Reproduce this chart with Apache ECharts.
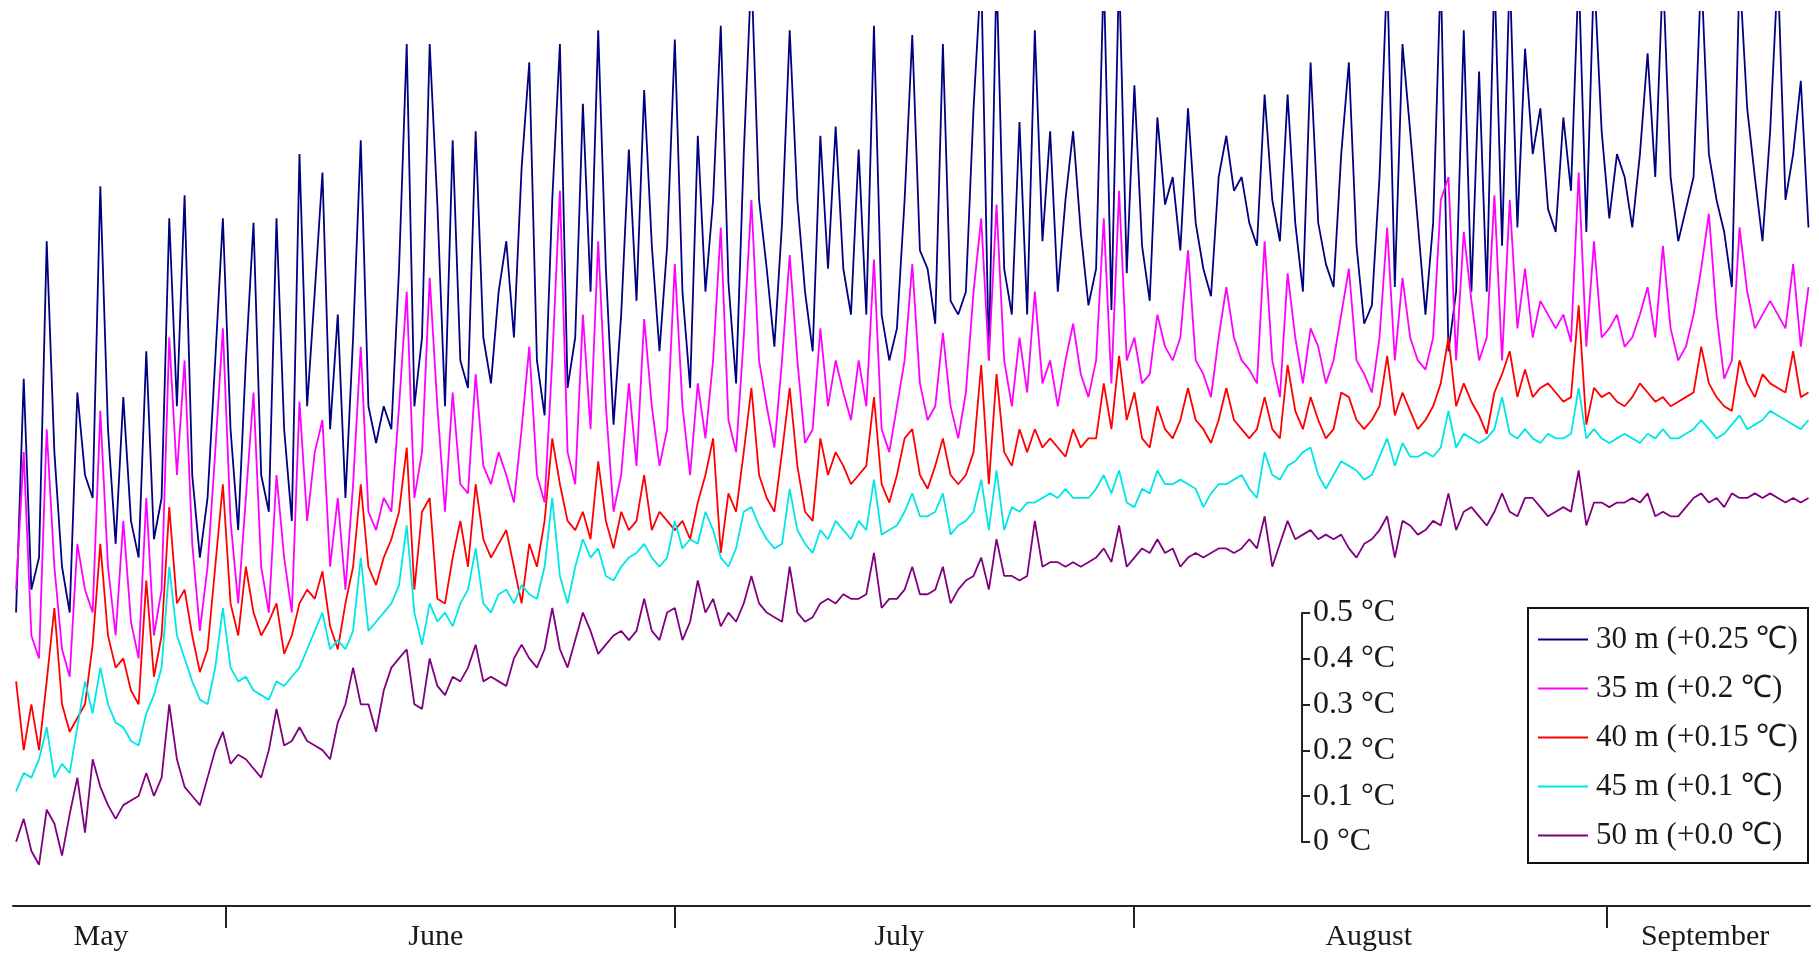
<!DOCTYPE html>
<html>
<head>
<meta charset="utf-8">
<script src="https://cdn.jsdelivr.net/npm/echarts@6/dist/echarts.min.js"></script>
<style>
  html, body { margin: 0; padding: 0; background: #fff; }
  #chart { width: 1819px; height: 955px; }
</style>
</head>
<body>
<div id="chart"></div>
<script>
// Water temperature at five depths, one value every half day (sample index on x).
// Each series already carries the offset listed in its legend entry.

const seriesNames = ['30 m (+0.25 \u2103)', '35 m (+0.2 \u2103)', '40 m (+0.15 \u2103)', '45 m (+0.1 \u2103)', '50 m (+0.0 \u2103)'];
const seriesColors = ['#000080', '#ff00ff', '#ff0000', '#00e6e6', '#800080'];

const t30 = [
  0.50, 1.01, 0.55, 0.62, 1.31, 0.85, 0.60, 0.50, 0.98, 0.80,
  0.75, 1.43, 0.90, 0.65, 0.97, 0.70, 0.62, 1.07, 0.66, 0.75,
  1.36, 0.95, 1.41, 0.80, 0.62, 0.75, 1.05, 1.36, 0.90, 0.68,
  1.05, 1.35, 0.80, 0.72, 1.36, 0.90, 0.70, 1.50, 0.95, 1.20,
  1.46, 0.90, 1.15, 0.75, 1.10, 1.53,
  0.95, 0.87, 0.95, 0.90, 1.25, 1.74, 0.95, 1.10, 1.74, 1.39,
  0.95, 1.53, 1.05, 0.99, 1.55, 1.10, 1.00, 1.20, 1.31, 1.10,
  1.47, 1.70, 1.05, 0.93, 1.40, 1.74, 0.99, 1.10, 1.61, 1.20,
  1.77, 1.25, 0.91, 1.15, 1.51, 1.18, 1.64, 1.30, 1.07, 1.30,
  1.75, 1.20, 0.99, 1.54, 1.20, 1.40, 1.78, 1.22,
  1.00, 1.50, 1.90, 1.40, 1.25, 1.08, 1.35, 1.77, 1.40, 1.20,
  1.07, 1.54, 1.25, 1.56, 1.25, 1.15, 1.51, 1.15, 1.78, 1.15,
  1.05, 1.12, 1.40, 1.76, 1.29, 1.25, 1.13, 1.74, 1.18, 1.15,
  1.20, 1.60, 1.90, 1.05, 1.90, 1.25, 1.15, 1.57, 1.15, 1.77,
  1.31, 1.55, 1.20, 1.40, 1.55, 1.33, 1.17,
  1.25, 1.90, 1.16, 1.90, 1.24, 1.65, 1.30, 1.18, 1.58, 1.39,
  1.45, 1.29, 1.60, 1.35, 1.25, 1.19, 1.45, 1.54, 1.42, 1.45,
  1.35, 1.30, 1.63, 1.40, 1.31, 1.63, 1.35, 1.20, 1.70, 1.35,
  1.26, 1.21, 1.50, 1.70, 1.30, 1.13, 1.17, 1.45, 1.90, 1.21,
  1.74, 1.55, 1.35, 1.15, 1.35, 1.90, 1.07, 1.20,
  1.77, 1.20, 1.68, 1.20, 1.90, 1.30, 1.90, 1.34, 1.73, 1.50,
  1.60, 1.38, 1.33, 1.58, 1.42, 1.90, 1.33, 1.90, 1.55, 1.36,
  1.50, 1.45, 1.34, 1.50, 1.72, 1.45, 1.90, 1.45, 1.31, 1.38,
  1.45, 1.90, 1.50, 1.40, 1.33, 1.21, 1.90, 1.60, 1.45, 1.31,
  1.55, 1.90, 1.40, 1.50, 1.66, 1.34
];

const t35 = [
  0.55, 0.85, 0.45, 0.40, 0.90, 0.60, 0.42, 0.36, 0.65, 0.55,
  0.50, 0.94, 0.60, 0.45, 0.70, 0.48, 0.40, 0.75, 0.45, 0.55,
  1.10, 0.80, 1.05, 0.65, 0.46, 0.60, 0.85, 1.12, 0.70, 0.52,
  0.75, 0.98, 0.60, 0.50, 0.80, 0.62, 0.50, 0.96, 0.70, 0.85,
  0.92, 0.60, 0.75, 0.55, 0.78, 1.08,
  0.72, 0.68, 0.75, 0.72, 0.95, 1.20, 0.75, 0.85, 1.23, 0.95,
  0.72, 0.98, 0.78, 0.76, 1.02, 0.82, 0.78, 0.85, 0.80, 0.74,
  0.90, 1.08, 0.80, 0.74, 1.05, 1.42, 0.85, 0.78, 1.15, 0.90,
  1.31, 0.95, 0.72, 0.80, 1.00, 0.82, 1.14, 0.95, 0.82, 0.90,
  1.26, 0.95, 0.80, 1.00, 0.88, 1.05, 1.34, 0.92,
  0.85, 1.10, 1.40, 1.05, 0.95, 0.86, 1.05, 1.28, 1.05, 0.87,
  0.90, 1.12, 0.95, 1.05, 0.98, 0.92, 1.05, 0.95, 1.27, 0.90,
  0.85, 0.95, 1.05, 1.26, 1.00, 0.92, 0.95, 1.11, 0.95, 0.88,
  0.98, 1.20, 1.36, 1.05, 1.39, 1.05, 0.95, 1.10, 0.98, 1.20,
  1.00, 1.05, 0.95, 1.05, 1.13, 1.02, 0.97,
  1.05, 1.36, 1.00, 1.42, 1.05, 1.10, 1.00, 1.02, 1.15, 1.08,
  1.05, 1.10, 1.29, 1.05, 1.02, 0.97, 1.10, 1.21, 1.10, 1.05,
  1.03, 1.00, 1.31, 1.05, 0.97, 1.24, 1.10, 1.00, 1.12, 1.08,
  1.00, 1.05, 1.15, 1.25, 1.05, 1.02, 0.98, 1.10, 1.34, 1.05,
  1.23, 1.10, 1.05, 1.03, 1.10, 1.40, 1.45, 1.05,
  1.33, 1.18, 1.05, 1.10, 1.41, 1.05, 1.40, 1.12, 1.25, 1.10,
  1.18, 1.15, 1.12, 1.15, 1.09, 1.46, 1.08, 1.31, 1.10, 1.12,
  1.15, 1.08, 1.10, 1.15, 1.21, 1.10, 1.30, 1.12, 1.05, 1.08,
  1.15, 1.25, 1.37, 1.15, 1.01, 1.05, 1.34, 1.20, 1.12, 1.15,
  1.18, 1.15, 1.12, 1.26, 1.08, 1.21
];

const t40 = [
  0.35, 0.20, 0.30, 0.20, 0.35, 0.51, 0.30, 0.24, 0.27, 0.30,
  0.43, 0.65, 0.45, 0.38, 0.40, 0.33, 0.30, 0.57, 0.36, 0.45,
  0.73, 0.52, 0.55, 0.45, 0.37, 0.42, 0.60, 0.78, 0.52, 0.45,
  0.60, 0.50, 0.45, 0.48, 0.52, 0.41, 0.45, 0.52, 0.55, 0.53,
  0.59, 0.47, 0.42, 0.52, 0.60, 0.78,
  0.60, 0.56, 0.62, 0.66, 0.72, 0.86, 0.55, 0.72, 0.75, 0.53,
  0.52, 0.62, 0.70, 0.60, 0.78, 0.66, 0.62, 0.65, 0.68, 0.60,
  0.52, 0.65, 0.60, 0.70, 0.88, 0.78, 0.70, 0.68, 0.72, 0.66,
  0.83, 0.70, 0.64, 0.72, 0.68, 0.70, 0.80, 0.68, 0.72, 0.70,
  0.68, 0.70, 0.66, 0.74, 0.80, 0.88, 0.63, 0.76,
  0.72, 0.85, 0.99, 0.80, 0.75, 0.72, 0.85, 0.99, 0.82, 0.72,
  0.70, 0.88, 0.80, 0.85, 0.82, 0.78, 0.80, 0.82, 0.97, 0.78,
  0.74, 0.80, 0.88, 0.90, 0.80, 0.77, 0.82, 0.88, 0.80, 0.78,
  0.80, 0.85, 1.04, 0.78, 1.02, 0.85, 0.82, 0.90, 0.85, 0.90,
  0.86, 0.88, 0.86, 0.84, 0.90, 0.86, 0.88,
  0.88, 1.00, 0.90, 1.06, 0.92, 0.98, 0.88, 0.86, 0.95, 0.90,
  0.88, 0.92, 0.99, 0.92, 0.90, 0.87, 0.92, 0.99, 0.92, 0.90,
  0.88, 0.90, 0.97, 0.90, 0.88, 1.04, 0.94, 0.90, 0.97, 0.92,
  0.88, 0.90, 0.98, 0.97, 0.92, 0.90, 0.92, 0.95, 1.06, 0.93,
  0.98, 0.94, 0.90, 0.92, 0.95, 1.00, 1.10, 0.95,
  1.00, 0.96, 0.93, 0.89, 0.98, 1.02, 1.07, 0.97, 1.03, 0.97,
  0.99, 1.00, 0.98, 0.96, 0.97, 1.17, 0.91, 0.99, 0.97, 0.98,
  0.96, 0.95, 0.97, 1.00, 0.98, 0.96, 0.97, 0.95, 0.96, 0.97,
  0.98, 1.08, 1.00, 0.97, 0.95, 0.94, 1.05, 1.00, 0.97, 1.02,
  1.00, 0.99, 0.98, 1.07, 0.97, 0.98
];

const t45 = [
  0.11, 0.15, 0.14, 0.18, 0.25, 0.14, 0.17, 0.15, 0.25, 0.35,
  0.28, 0.38, 0.30, 0.26, 0.25, 0.22, 0.21, 0.28, 0.32, 0.38,
  0.60, 0.45, 0.40, 0.35, 0.31, 0.30, 0.38, 0.51, 0.38, 0.35,
  0.36, 0.33, 0.32, 0.31, 0.35, 0.34, 0.36, 0.38, 0.42, 0.46,
  0.50, 0.42, 0.44, 0.42, 0.46, 0.62,
  0.46, 0.48, 0.50, 0.52, 0.56, 0.69, 0.50, 0.43, 0.52, 0.48,
  0.50, 0.47, 0.52, 0.55, 0.64, 0.52, 0.50, 0.54, 0.55, 0.52,
  0.56, 0.54, 0.53, 0.60, 0.75, 0.58, 0.52, 0.60, 0.66, 0.62,
  0.64, 0.58, 0.57, 0.60, 0.62, 0.63, 0.65, 0.62, 0.60, 0.62,
  0.70, 0.64, 0.66, 0.65, 0.72, 0.68, 0.62, 0.60,
  0.64, 0.72, 0.73, 0.69, 0.66, 0.64, 0.65, 0.77, 0.68, 0.65,
  0.63, 0.68, 0.66, 0.70, 0.68, 0.66, 0.70, 0.68, 0.79, 0.67,
  0.68, 0.69, 0.72, 0.76, 0.71, 0.71, 0.72, 0.76, 0.67, 0.69,
  0.70, 0.72, 0.79, 0.68, 0.81, 0.68, 0.73, 0.72, 0.74, 0.74,
  0.75, 0.76, 0.75, 0.77, 0.75, 0.75, 0.75,
  0.77, 0.80, 0.76, 0.81, 0.74, 0.73, 0.77, 0.76, 0.81, 0.78,
  0.78, 0.79, 0.78, 0.77, 0.73, 0.76, 0.78, 0.78, 0.79, 0.80,
  0.77, 0.75, 0.85, 0.80, 0.79, 0.82, 0.83, 0.85, 0.86, 0.80,
  0.77, 0.80, 0.83, 0.82, 0.81, 0.79, 0.80, 0.84, 0.88, 0.82,
  0.87, 0.84, 0.84, 0.85, 0.84, 0.86, 0.94, 0.86,
  0.89, 0.88, 0.87, 0.88, 0.90, 0.97, 0.89, 0.88, 0.90, 0.88,
  0.87, 0.89, 0.88, 0.88, 0.89, 0.99, 0.88, 0.90, 0.88, 0.87,
  0.88, 0.89, 0.88, 0.87, 0.89, 0.88, 0.90, 0.88, 0.88, 0.89,
  0.90, 0.92, 0.90, 0.88, 0.89, 0.91, 0.93, 0.90, 0.91, 0.92,
  0.94, 0.93, 0.92, 0.91, 0.90, 0.92
];

const t50 = [
  0.00, 0.05, -0.02, -0.05, 0.07, 0.04, -0.03, 0.06, 0.14, 0.02,
  0.18, 0.12, 0.08, 0.05, 0.08, 0.09, 0.10, 0.15, 0.10, 0.14,
  0.30, 0.18, 0.12, 0.10, 0.08, 0.14, 0.20, 0.24, 0.17, 0.19,
  0.18, 0.16, 0.14, 0.20, 0.29, 0.21, 0.22, 0.25, 0.22, 0.21,
  0.20, 0.18, 0.26, 0.30, 0.38, 0.30,
  0.30, 0.24, 0.33, 0.38, 0.40, 0.42, 0.30, 0.29, 0.40, 0.34,
  0.32, 0.36, 0.35, 0.38, 0.43, 0.35, 0.36, 0.35, 0.34, 0.40,
  0.43, 0.40, 0.38, 0.42, 0.51, 0.42, 0.38, 0.44, 0.50, 0.46,
  0.41, 0.43, 0.45, 0.46, 0.44, 0.46, 0.53, 0.46, 0.44, 0.50,
  0.51, 0.44, 0.48, 0.57, 0.50, 0.53, 0.47, 0.50,
  0.48, 0.52, 0.58, 0.52, 0.50, 0.49, 0.48, 0.60, 0.50, 0.48,
  0.49, 0.52, 0.53, 0.52, 0.54, 0.53, 0.53, 0.54, 0.63, 0.51,
  0.53, 0.53, 0.55, 0.60, 0.54, 0.54, 0.55, 0.60, 0.52, 0.55,
  0.57, 0.58, 0.62, 0.55, 0.66, 0.58, 0.58, 0.57, 0.58, 0.70,
  0.60, 0.61, 0.61, 0.60, 0.61, 0.60, 0.61,
  0.62, 0.64, 0.61, 0.69, 0.60, 0.62, 0.64, 0.63, 0.66, 0.63,
  0.64, 0.60, 0.62, 0.63, 0.62, 0.63, 0.64, 0.64, 0.63, 0.64,
  0.66, 0.64, 0.71, 0.60, 0.65, 0.70, 0.66, 0.67, 0.68, 0.66,
  0.67, 0.66, 0.67, 0.64, 0.62, 0.65, 0.66, 0.68, 0.71, 0.62,
  0.70, 0.69, 0.67, 0.68, 0.70, 0.69, 0.76, 0.68,
  0.72, 0.73, 0.71, 0.69, 0.72, 0.76, 0.72, 0.71, 0.75, 0.75,
  0.73, 0.71, 0.72, 0.73, 0.72, 0.81, 0.69, 0.74, 0.74, 0.73,
  0.74, 0.74, 0.75, 0.74, 0.76, 0.71, 0.72, 0.71, 0.71, 0.73,
  0.75, 0.76, 0.74, 0.75, 0.73, 0.76, 0.75, 0.75, 0.76, 0.75,
  0.76, 0.75, 0.74, 0.75, 0.74, 0.75
];

// Month names, month boundaries and month label positions, in sample-index units.
const months = ['May', 'June', 'July', 'August', 'September'];
const monthBounds = [-0.4, 27.4, 86.0, 145.9, 207.7, 234.2];
const monthLabelAt = [11.1, 54.8, 115.3, 176.6, 220.5];

// Temperature scale bar ticks (°C).
const scaleTicks = [0, 0.1, 0.2, 0.3, 0.4, 0.5];

const allSeries = [t30, t35, t40, t45, t50];

const FONT = '"Liberation Serif", "Times New Roman", serif';
const TEXT = '#1a1a1a';

const chart = echarts.init(document.getElementById('chart'), null, { renderer: 'canvas' });

chart.setOption({
  animation: false,
  backgroundColor: '#ffffff',
  grid: [
    { left: 13, right: 9, top: 12, bottom: 49 },
    { left: 1301, top: 613, width: 1, height: 229 }
  ],
  xAxis: [
    {
      type: 'value',
      gridIndex: 0,
      min: monthBounds[0],
      max: monthBounds[monthBounds.length - 1],
      axisLine: { show: true, onZero: false, lineStyle: { color: '#222', width: 2 } },
      axisTick: {
        show: true,
        length: 22,
        customValues: monthBounds.slice(1, -1),
        lineStyle: { color: '#222', width: 2 }
      },
      axisLabel: {
        show: true,
        customValues: monthLabelAt,
        margin: 16,
        fontFamily: FONT,
        fontSize: 30,
        color: TEXT,
        formatter: function (v) {
          let best = 0;
          for (let i = 1; i < monthLabelAt.length; i++) {
            if (Math.abs(monthLabelAt[i] - v) < Math.abs(monthLabelAt[best] - v)) best = i;
          }
          return months[best];
        }
      },
      splitLine: { show: false }
    },
    { type: 'value', gridIndex: 1, min: 0, max: 1, show: false }
  ],
  yAxis: [
    { type: 'value', gridIndex: 0, min: -0.14, max: 1.81, show: false, splitLine: { show: false } },
    {
      type: 'value',
      gridIndex: 1,
      position: 'right',
      min: scaleTicks[0],
      max: scaleTicks[scaleTicks.length - 1],
      interval: 0.1,
      axisLine: { show: true, onZero: false, lineStyle: { color: '#222', width: 2 } },
      axisTick: { show: true, length: 8, lineStyle: { color: '#222', width: 2 } },
      axisLabel: {
        show: true,
        margin: 11,
        fontFamily: FONT,
        fontSize: 32,
        color: TEXT,
        formatter: function (v) {
          return (v === 0 ? '0' : v.toFixed(1)) + ' \u00b0C';
        }
      },
      splitLine: { show: false }
    }
  ],
  legend: {
    orient: 'vertical',
    left: 1538,
    top: 624,
    padding: 0,
    itemGap: 18,
    itemWidth: 50,
    itemHeight: 2,
    icon: 'rect',
    z: 10,
    textStyle: { fontFamily: FONT, fontSize: 31, color: TEXT, padding: [0, 0, 0, 3] },
    data: seriesNames
  },
  graphic: [
    {
      type: 'rect',
      z: 5,
      shape: { x: 1528, y: 608, width: 280, height: 255 },
      style: { fill: 'transparent', stroke: '#111', lineWidth: 2 }
    }
  ],
  series: allSeries.map((vals, k) => ({
    name: seriesNames[k],
    type: 'line',
    xAxisIndex: 0,
    yAxisIndex: 0,
    symbol: 'none',
    showSymbol: false,
    clip: true,
    color: seriesColors[k],
    lineStyle: { color: seriesColors[k], width: 1.8 },
    data: vals.map((v, i) => [i, v])
  }))
});
</script>
</body>
</html>
